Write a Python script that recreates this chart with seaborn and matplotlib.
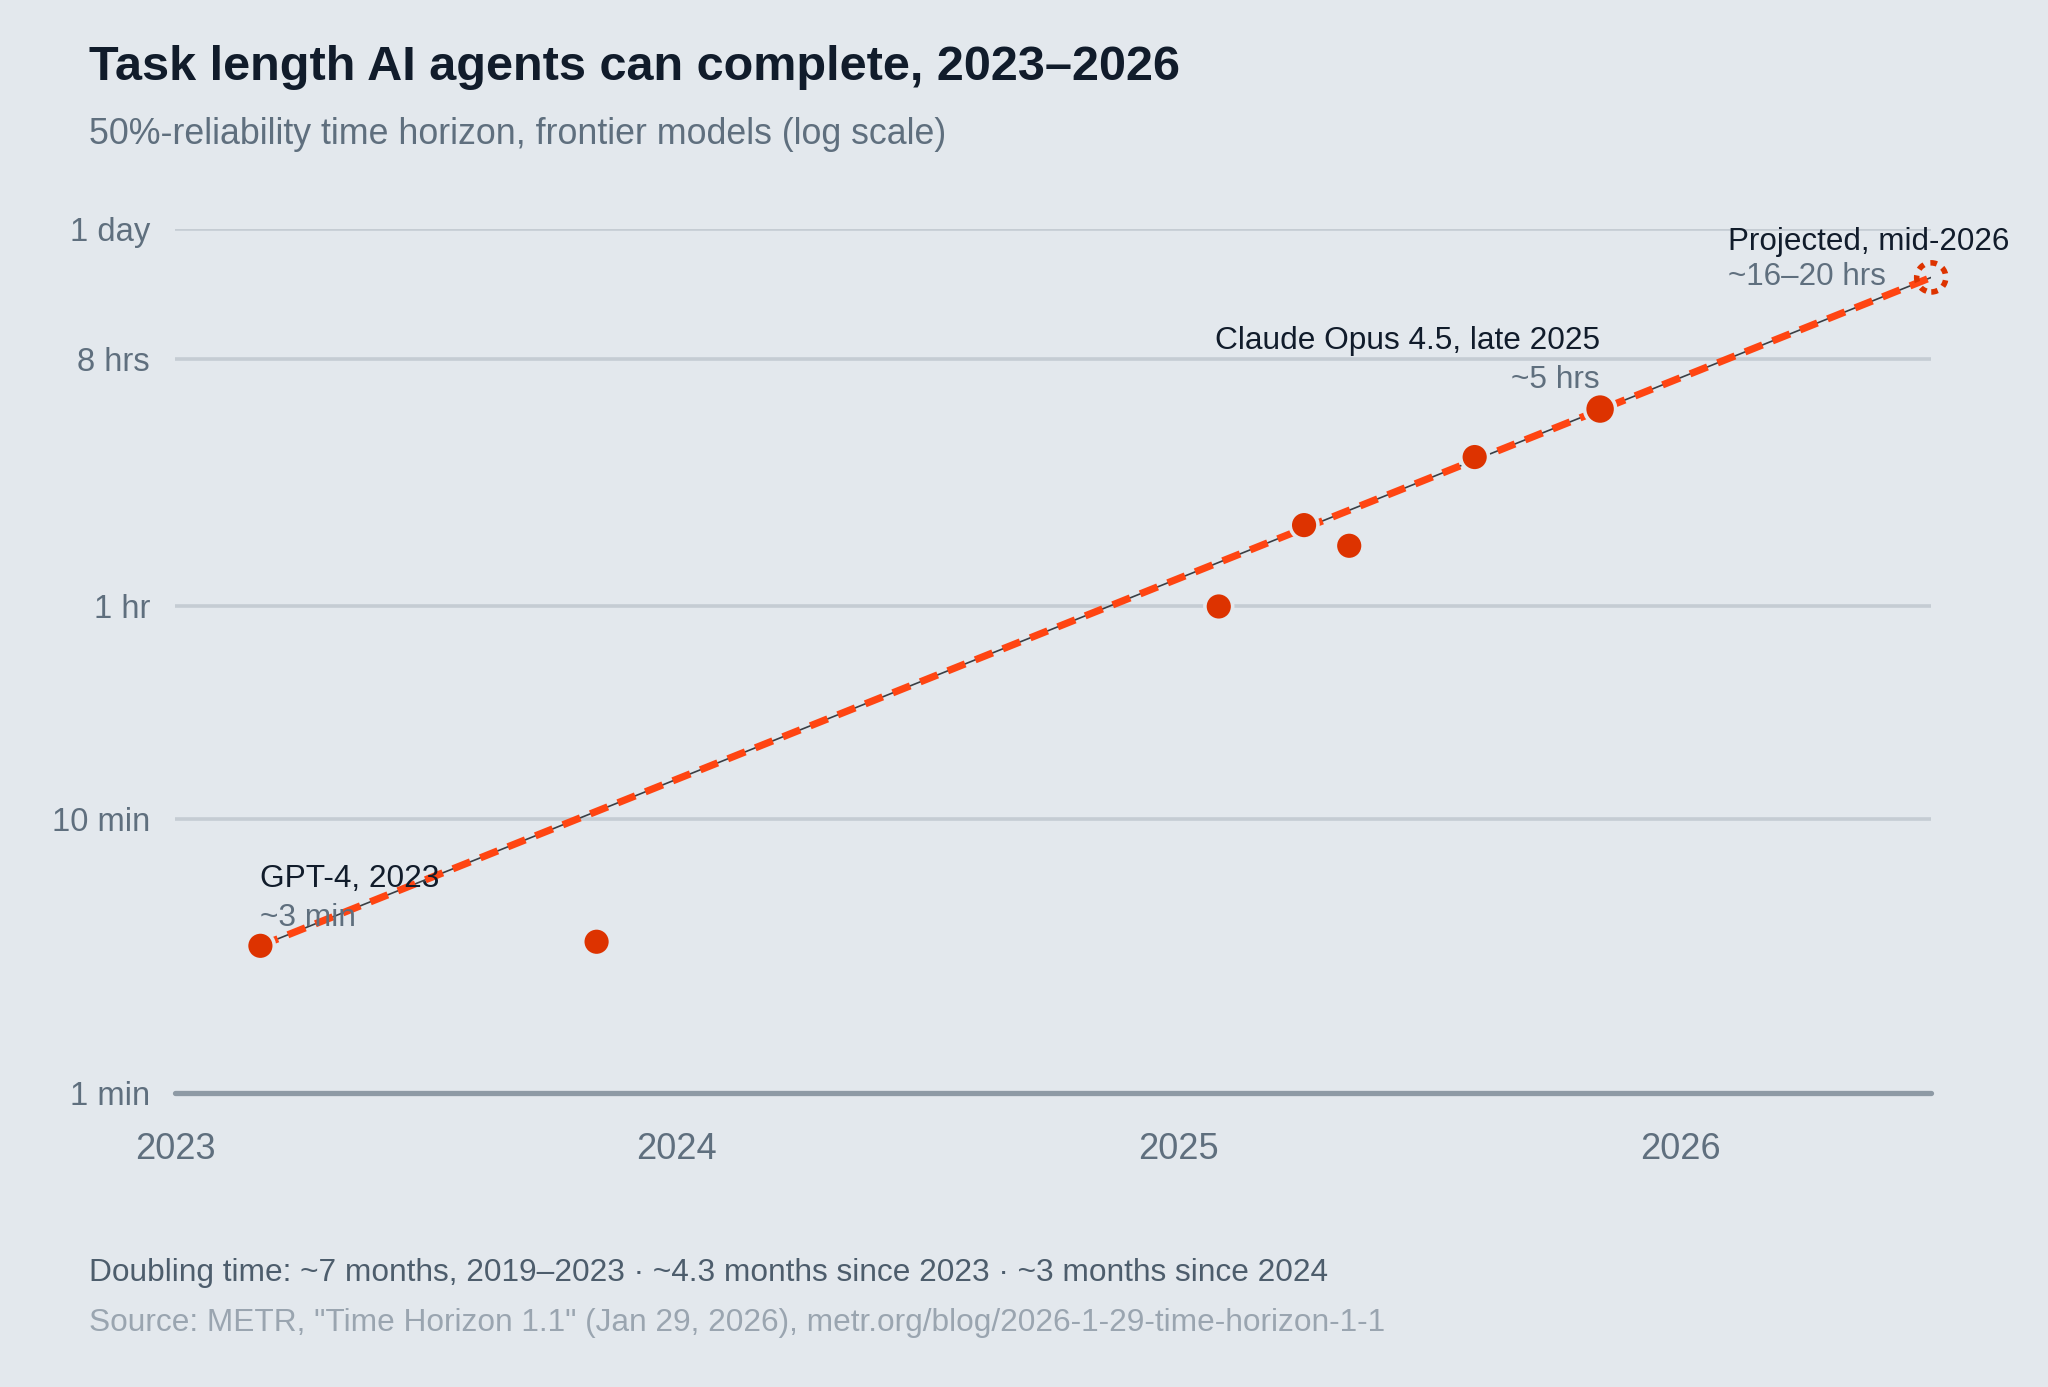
import numpy as np
import pandas as pd
import matplotlib.pyplot as plt
import seaborn as sns

# Observed frontier models (decimal year, 50% time horizon in minutes)
model_dates = [2023.17, 2023.84, 2025.08, 2025.25, 2025.34, 2025.59, 2025.84]
model_minutes = [3.45, 3.57, 60, 119, 100, 211, 316]
model_names = ["GPT-4", "", "", "", "", "", "Claude Opus 4.5"]

# Trend from GPT-4 to projected mid-2026
trend_dates = [2023.17, 2026.5]
trend_minutes = [3.45, 957]

projected_date = 2026.5
projected_minutes = 957

y_ticks = [1, 10, 60, 480, 1440]
y_labels = ["1 min", "10 min", "1 hr", "8 hrs", "1 day"]
x_ticks = [2023, 2024, 2025, 2026]

BG = "#e3e8ed"
RED = "#dd3300"
DASH = "#ff4512"
INK = "#111c2b"
MUTED = "#5f6f7e"

sns.set_theme(style="white", rc={"axes.facecolor": BG, "figure.facecolor": BG})
plt.rcParams["font.family"] = ["Liberation Sans", "DejaVu Sans"]

fig = plt.figure(figsize=(10.24, 6.935), dpi=200)
ax = fig.add_axes([0.0855, 0.212, 0.8575, 0.623])

df = pd.DataFrame({"date": model_dates, "minutes": model_minutes, "name": model_names})
trend = pd.DataFrame({"date": trend_dates, "minutes": trend_minutes})

# thin guide line under the dashed trend
sns.lineplot(data=trend, x="date", y="minutes", ax=ax, color="#3a3f45", lw=0.6, zorder=2)
sns.lineplot(data=trend, x="date", y="minutes", ax=ax, color=DASH, lw=2.6,
             dashes=False, zorder=3).lines[-1].set_dashes((2.6, 1.5))

sizes = [125 if n == "Claude Opus 4.5" else 100 for n in model_names]
sns.scatterplot(data=df, x="date", y="minutes", ax=ax, s=sizes, color=RED,
                edgecolor=BG, linewidth=1.3, zorder=4, clip_on=False)
ax.scatter([projected_date], [projected_minutes], s=110, facecolor="none",
           edgecolor=RED, linewidth=2.0, linestyle=(0, (1.2, 1.2)), zorder=5, clip_on=False)

ax.set_yscale("log")
ax.set_xlim(2023, 2026.5)
ax.set_ylim(1, 1440)
ax.set_yticks(y_ticks)
ax.set_yticklabels(y_labels)
ax.minorticks_off()
ax.set_xticks(x_ticks)
ax.set_xticklabels([str(x) for x in x_ticks])
ax.tick_params(axis="y", length=0, pad=9, labelsize=11.8, labelcolor=MUTED)
ax.tick_params(axis="x", length=0, pad=14, labelsize=13, labelcolor=MUTED)
ax.set_xlabel("")
ax.set_ylabel("")
for y in y_ticks[1:]:
    ax.axhline(y, color="#c5ccd3", lw=1.3, zorder=1)
ax.axhline(1, color="#8e9aa5", lw=1.9, zorder=1, clip_on=False)
sns.despine(ax=ax, left=True, bottom=True)

# annotations
ax.annotate("GPT-4, 2023", (2023.17, 3.45), xytext=(0, 24), textcoords="offset points",
            ha="left", va="center", fontsize=11.4, color=INK)
ax.annotate("~3 min", (2023.17, 3.45), xytext=(0, 10), textcoords="offset points",
            ha="left", va="center", fontsize=11.4, color=MUTED)
ax.annotate("Claude Opus 4.5, late 2025", (2025.84, 316), xytext=(0, 24.4),
            textcoords="offset points", ha="right", va="center", fontsize=11.4, color=INK)
ax.annotate("~5 hrs", (2025.84, 316), xytext=(0, 10.3), textcoords="offset points",
            ha="right", va="center", fontsize=11.4, color=MUTED)
ax.annotate("Projected, mid-2026", (projected_date, projected_minutes), xytext=(-73, 12.7),
            textcoords="offset points", ha="left", va="center", fontsize=11.3, color=INK)
ax.annotate("~16\u201320 hrs", (projected_date, projected_minutes), xytext=(-73, 0),
            textcoords="offset points", ha="left", va="center", fontsize=11.3, color=MUTED)

fig.text(0.0435, 0.951, "Task length AI agents can complete, 2023\u20132026", fontsize=17.5,
         fontweight="bold", color=INK, va="center")
fig.text(0.0435, 0.903, "50%-reliability time horizon, frontier models (log scale)",
         fontsize=12.9, color=MUTED, va="center")
fig.text(0.0435, 0.082,
         "Doubling time: ~7 months, 2019\u20132023 \u00b7 ~4.3 months since 2023 \u00b7 ~3 months since 2024",
         fontsize=11.4, color="#4d5d6c", va="center")
fig.text(0.0435, 0.046,
         'Source: METR, "Time Horizon 1.1" (Jan 29, 2026), metr.org/blog/2026-1-29-time-horizon-1-1',
         fontsize=11.4, color="#9aa5b0", va="center")

fig.savefig("out.png", dpi=200, facecolor=BG)
